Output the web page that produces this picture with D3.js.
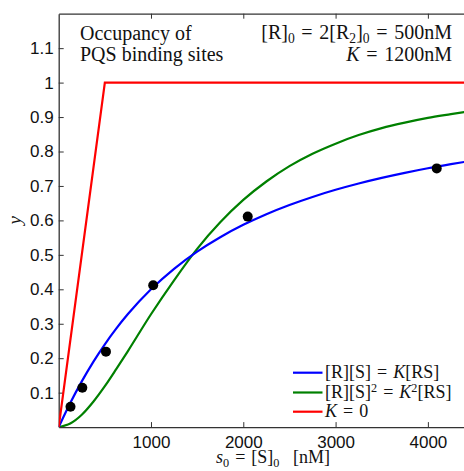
<!DOCTYPE html>
<html>
<head>
<meta charset="utf-8">
<script src="https://cdn.jsdelivr.net/npm/d3@7"></script>
<style>
  html, body { margin: 0; padding: 0; background: #fff; }
  svg { display: block; }
  .tick text { font-family: "Liberation Sans", Arial, sans-serif; font-size: 17px; fill: #111; }
  .serif { font-family: "Liberation Serif", "DejaVu Serif", serif; fill: #111; }
</style>
</head>
<body>
<svg id="chart" width="464" height="471"></svg>
<script>
// Total substrate concentration s0 (nM) at which the model curves are sampled
const sGrid = [0, 125, 250, 375, 500, 625, 750, 1000, 1250, 1500, 1750, 2000,
               2250, 2500, 2750, 3000, 3250, 3500, 3750, 4000, 4250, 4400];
// Occupancy for simple binding [R][S] = K[RS]
const simpleY = [0, 0.0698, 0.1327, 0.1894, 0.2404, 0.2865, 0.3281, 0.4000, 0.4595,
                 0.5093, 0.5513, 0.5871, 0.6180, 0.6447, 0.6681, 0.6888, 0.7071,
                 0.7234, 0.7380, 0.7513, 0.7632, 0.7699];
// Occupancy for cooperative binding [R][S]^2 = K^2[RS]
const coopY = [0, 0.0105, 0.0360, 0.0737, 0.1188, 0.1690, 0.2208, 0.3276, 0.4262,
               0.5175, 0.5945, 0.6594, 0.7129, 0.7575, 0.7935, 0.8228, 0.8477,
               0.8678, 0.8837, 0.8974, 0.9085, 0.9150];
// Limit of infinitely tight binding, K = 0
const tightS = [0, 500, 4400];
const tightY = [0, 1, 1];
// Measured occupancies
const measS = [128, 256, 512, 1024, 2048, 4096];
const measY = [0.059, 0.114, 0.219, 0.412, 0.611, 0.751];
// Axis ticks
const xTicks = [1000, 2000, 3000, 4000];
const yTicks = [0.1, 0.2, 0.3, 0.4, 0.5, 0.6, 0.7, 0.8, 0.9, 1, 1.1];

const svg = d3.select("#chart");
const pLeft = 58.7, pRight = 464.8, pTop = 13.7, pBottom = 427.1;

const x = d3.scaleLinear().domain([0, 4400]).range([pLeft, pRight]);
const y = d3.scaleLinear().domain([0, 1.2]).range([pBottom, pTop]);

svg.append("clipPath").attr("id", "plot")
  .append("rect").attr("x", pLeft).attr("y", pTop)
  .attr("width", pRight - pLeft).attr("height", pBottom - pTop);

const axisColor = "#333";

// Bottom axis, ticks pointing into the plot
const gx = svg.append("g").attr("transform", `translate(0,${pBottom})`)
  .call(d3.axisBottom(x).tickValues(xTicks).tickSizeInner(-5).tickSizeOuter(0).tickFormat(d3.format("d")));
gx.select(".domain").attr("stroke", axisColor).attr("stroke-width", 1.3);
gx.selectAll(".tick line").attr("stroke", axisColor);
gx.selectAll(".tick text").attr("dy", null).attr("y", 21);

// Top axis, ticks only
const gt = svg.append("g").attr("transform", `translate(0,${pTop})`)
  .call(d3.axisTop(x).tickValues(xTicks).tickSizeInner(-5).tickSizeOuter(0).tickFormat(""));
gt.select(".domain").attr("stroke", axisColor).attr("stroke-width", 1.3);
gt.selectAll(".tick line").attr("stroke", axisColor);

// Left axis
const gy = svg.append("g").attr("transform", `translate(${pLeft},0)`)
  .call(d3.axisLeft(y).tickValues(yTicks).tickSizeInner(-5).tickSizeOuter(0).tickFormat(d => d3.format("")(d)));
gy.select(".domain").attr("stroke", axisColor).attr("stroke-width", 1.3);
gy.selectAll(".tick line").attr("stroke", axisColor);
gy.selectAll(".tick text").attr("x", -5);

const plot = svg.append("g").attr("clip-path", "url(#plot)");

const line = d3.line().x(d => x(d[0])).y(d => y(d[1]));
const smooth = d3.line().x(d => x(d[0])).y(d => y(d[1])).curve(d3.curveMonotoneX);

const series = [
  { s: sGrid, v: simpleY, color: "#0000ff", gen: smooth },
  { s: sGrid, v: coopY, color: "#008000", gen: smooth },
  { s: tightS, v: tightY, color: "#ff0000", gen: line }
];
// green first, then blue over it, red on top
[series[1], series[0], series[2]].forEach(ser => {
  plot.append("path")
    .datum(ser.s.map((s, i) => [s, ser.v[i]]))
    .attr("fill", "none").attr("stroke", ser.color).attr("stroke-width", 2.2)
    .attr("d", ser.gen);
});

plot.selectAll("circle.meas").data(measS.map((s, i) => [s, measY[i]]))
  .join("circle").attr("class", "meas")
  .attr("cx", d => x(d[0])).attr("cy", d => y(d[1])).attr("r", 5)
  .attr("fill", "#000");

// Writes text with sub/superscripts: parts are [text, mode]
function rich(g, px, py, parts, size, anchor) {
  const t = g.append("text").attr("class", "serif").attr("x", px).attr("y", py)
    .attr("font-size", size).attr("text-anchor", anchor || "start");
  let shift = 0;
  parts.forEach(p => {
    const [txt, mode] = p;
    const ts = t.append("tspan").text(txt);
    let target = 0;
    if (mode === "sub") { ts.attr("font-size", size * 0.68); target = size * 0.2; }
    else if (mode === "sup") { ts.attr("font-size", size * 0.68); target = -size * 0.36; }
    else if (mode === "it") ts.attr("font-style", "italic");
    if (target !== shift) { ts.attr("dy", target - shift); shift = target; }
  });
  return t;
}

const EQ = "\u2004=\u2004";

// Title block
rich(svg, 80, 40, [["Occupancy of"]], 20);
rich(svg, 80, 61, [["PQS binding sites"]], 20);
rich(svg, 452, 39, [["[R]"], ["0", "sub"], [EQ + "2[R"], ["2", "sub"], ["]"], ["0", "sub"], [EQ + "500nM"]], 20, "end");
rich(svg, 452, 61, [["K", "it"], [EQ + "1200nM"]], 20, "end");

// Legend
const legend = [
  { color: "#0000ff", parts: [["[R][S]" + EQ], ["K", "it"], ["[RS]"]] },
  { color: "#008000", parts: [["[R][S]"], ["2", "sup"], [EQ], ["K", "it"], ["2", "sup"], ["[RS]"]] },
  { color: "#ff0000", parts: [["K", "it"], [EQ + "0"]] }
];
const legY = [372.7, 392.5, 411.7];
legend.forEach((L, i) => {
  svg.append("line").attr("x1", 293).attr("x2", 322.5)
    .attr("y1", legY[i]).attr("y2", legY[i])
    .attr("stroke", L.color).attr("stroke-width", 2.2);
  rich(svg, 325, legY[i] + 5.5, L.parts, 18);
});

// Axis titles
rich(svg, 216, 463, [["s", "it"], ["0", "sub"], [EQ + "[S]"], ["0", "sub"], ["\u00a0\u00a0\u00a0[nM]"]], 18);
svg.append("text").attr("class", "serif")
  .attr("transform", `translate(21,${(pTop + pBottom) / 2}) rotate(-90)`)
  .attr("text-anchor", "middle").attr("font-size", 19).attr("font-style", "italic")
  .text("y");
</script>
</body>
</html>
